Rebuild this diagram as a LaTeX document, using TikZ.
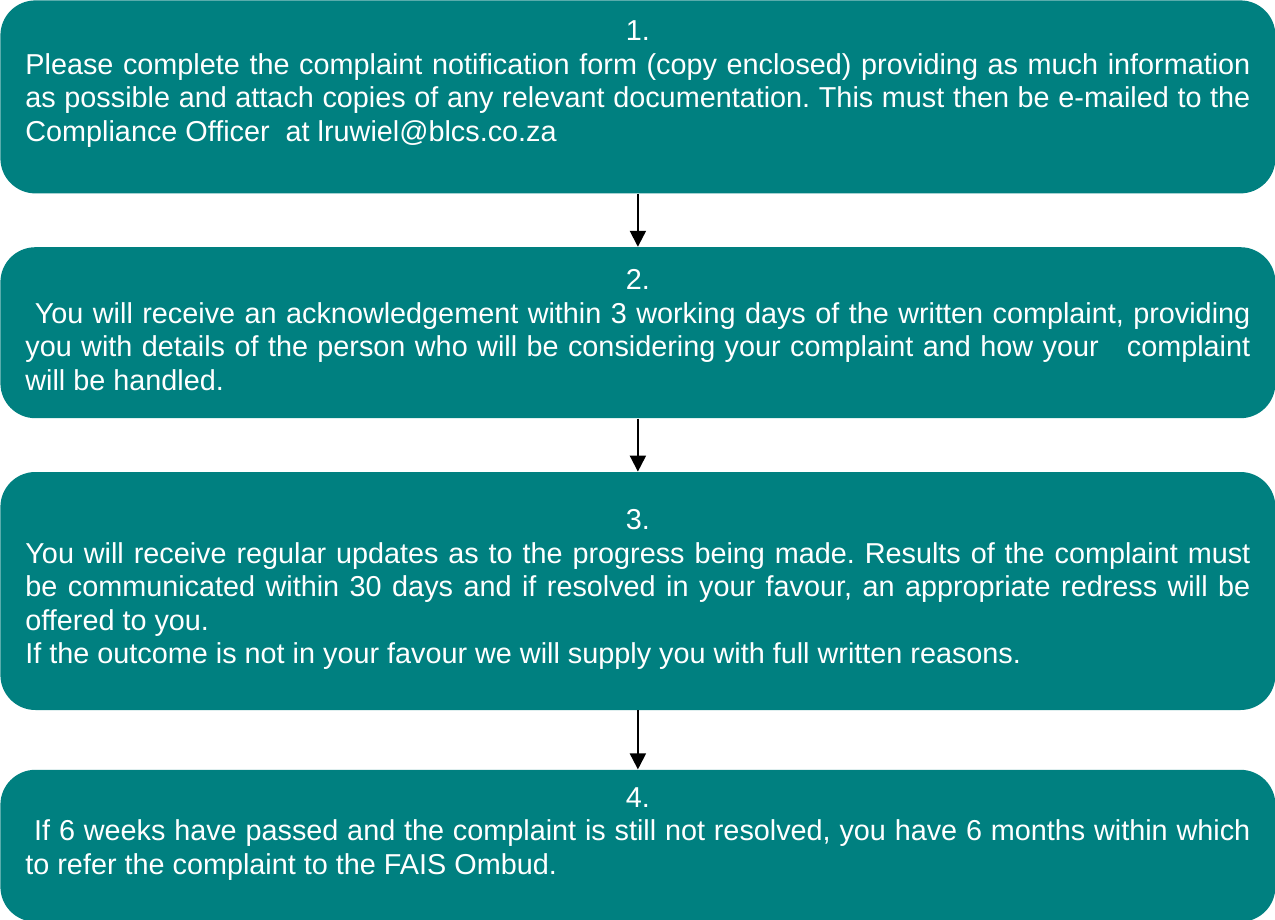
\documentclass[tikz,border=0pt]{standalone}
\usepackage{fontspec}
\setmainfont{Liberation Sans}
\usetikzlibrary{positioning,arrows.meta}
\definecolor{boxteal}{RGB}{0,128,128}
\tikzstyle{line} = [draw, line width=1pt, -{Triangle[length=8pt,width=8pt]}]
\tikzstyle{stepbox} = [fill=boxteal, rounded corners=17.5pt, text=white, text width=612.5pt, align=justify, inner xsep=12.5pt, inner ysep=0pt, font=\fontsize{14.4}{16.75}\selectfont]
% centred step number on its own line
\newcommand{\stepno}[1]{\frenchspacing\makebox[\linewidth]{#1}\\}

\begin{document}
\begin{tikzpicture}[node distance=26.5pt]
        \useasboundingbox (0,0) rectangle (637.5pt,-460pt);
        \node[stepbox, anchor=north west, text height=20.25pt, text depth=76.25pt] (s1) at (0,0) {\stepno{1.}
            Please complete the complaint notification form (copy enclosed) providing as much information\linebreak
            as possible and attach copies of any relevant documentation. This must then be e-mailed to the\linebreak
            Compliance Officer\ \ at lruwiel@blcs.co.za};
        \node[stepbox, below=of s1, text height=21.25pt, text depth=64.25pt] (s2) {\stepno{2.}
            \mbox{}\ You will receive an acknowledgement within 3 working days of the written complaint, providing\linebreak
            you with details of the person who will be considering your complaint and how your\ \ \ complaint\linebreak
            will be handled.};
        \node[stepbox, below=of s2, text height=28.75pt, text depth=90.25pt] (s3) {\stepno{3.}
            You will receive regular updates as to the progress being made. Results of the complaint must\linebreak
            be communicated within 30 days and if resolved in your favour, an appropriate redress will be\linebreak
            offered to you.\\
            If the outcome is not in your favour we will supply you with full written reasons.};
        \node[stepbox, below=29.5pt of s3, text height=18.75pt, text depth=57.25pt] (s4) {\stepno{4.}
            \mbox{}\ If 6 weeks have passed and the complaint is still not resolved, you have 6 months within which\linebreak
            to refer the complaint to the FAIS Ombud.};
        \path[line] (s1) -- (s2);
        \path[line] (s2) -- (s3);
        \path[line] (s3) -- (s4);
\end{tikzpicture}
\end{document}
